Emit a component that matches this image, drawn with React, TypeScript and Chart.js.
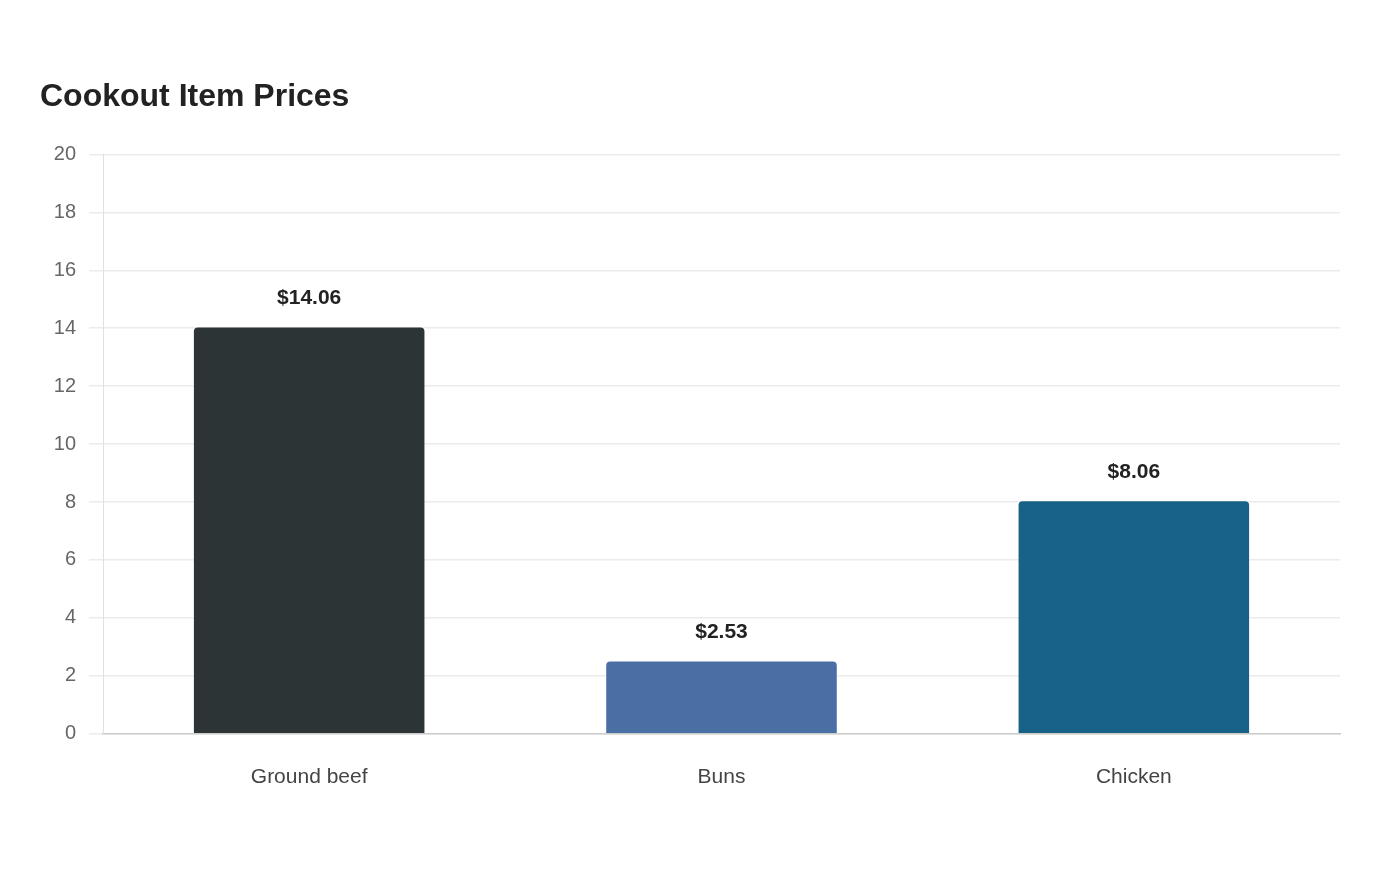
import React, { useEffect, useRef } from "react";
import { Chart, registerables } from "chart.js";

Chart.register(...registerables);

const categories = ["Ground beef", "Buns", "Chicken"];
const prices = [14.06, 2.53, 8.06];
const barColors = ["#2d3436", "#4a6fa5", "#186287"];
const yTicks = [0, 2, 4, 6, 8, 10, 12, 14, 16, 18, 20];
const chartTitle = "Cookout Item Prices";

const FONT = "'Liberation Sans', Arial, sans-serif";

const valueLabels = {
  id: "valueLabels",
  afterDatasetsDraw(chart: any) {
    const ctx = chart.ctx;
    const meta = chart.getDatasetMeta(0);
    ctx.save();
    ctx.font = "bold 21px " + FONT;
    ctx.fillStyle = "#222222";
    ctx.textAlign = "center";
    ctx.textBaseline = "middle";
    meta.data.forEach((bar: any, i: number) => {
      ctx.fillText("$" + prices[i].toFixed(2), bar.x, bar.y - 28);
    });
    ctx.restore();
  },
};

export default function App() {
  const ref = useRef<HTMLCanvasElement>(null);
  useEffect(() => {
    document.body.style.margin = "0";
    const chart = new Chart(ref.current!, {
      type: "bar",
      data: {
        labels: categories,
        datasets: [
          {
            data: prices,
            backgroundColor: barColors,
            borderColor: "rgba(255,255,255,0.35)",
            borderWidth: 1,
            borderRadius: { topLeft: 5, topRight: 5, bottomLeft: 0, bottomRight: 0 },
            borderSkipped: "bottom",
            categoryPercentage: 0.8,
            barPercentage: 0.705,
          },
        ],
      },
      plugins: [valueLabels],
      options: {
        responsive: false,
        animation: false,
        layout: { padding: { left: 40, right: 60, top: 0, bottom: 67 } },
        plugins: {
          legend: { display: false },
          tooltip: { enabled: false },
          title: {
            display: true,
            text: chartTitle,
            align: "start",
            color: "#222222",
            font: { family: FONT, size: 32, weight: "bold" },
            padding: { top: 78, bottom: 38 },
          },
        },
        scales: {
          x: {
            grid: { display: false },
            border: { display: true, color: "#cccccc", width: 1.5 },
            ticks: {
              color: "#444444",
              padding: 23,
              font: { family: FONT, size: 21 },
            },
          },
          y: {
            min: 0,
            max: 20,
            afterBuildTicks(scale: any) {
              scale.ticks = yTicks.map((v) => ({ value: v }));
            },
            afterFit(scale: any) {
              scale.width = 63;
            },
            grid: { color: "#ebebeb", tickLength: 14, lineWidth: 1.5 },
            border: { display: true, color: "#e0e0e0" },
            ticks: {
              color: "#666666",
              padding: 13,
              font: { family: FONT, size: 20 },
            },
          },
        },
      },
    } as any);
    return () => chart.destroy();
  }, []);
  return <canvas ref={ref} width={1400} height={880} style={{ display: "block" }} />;
}
